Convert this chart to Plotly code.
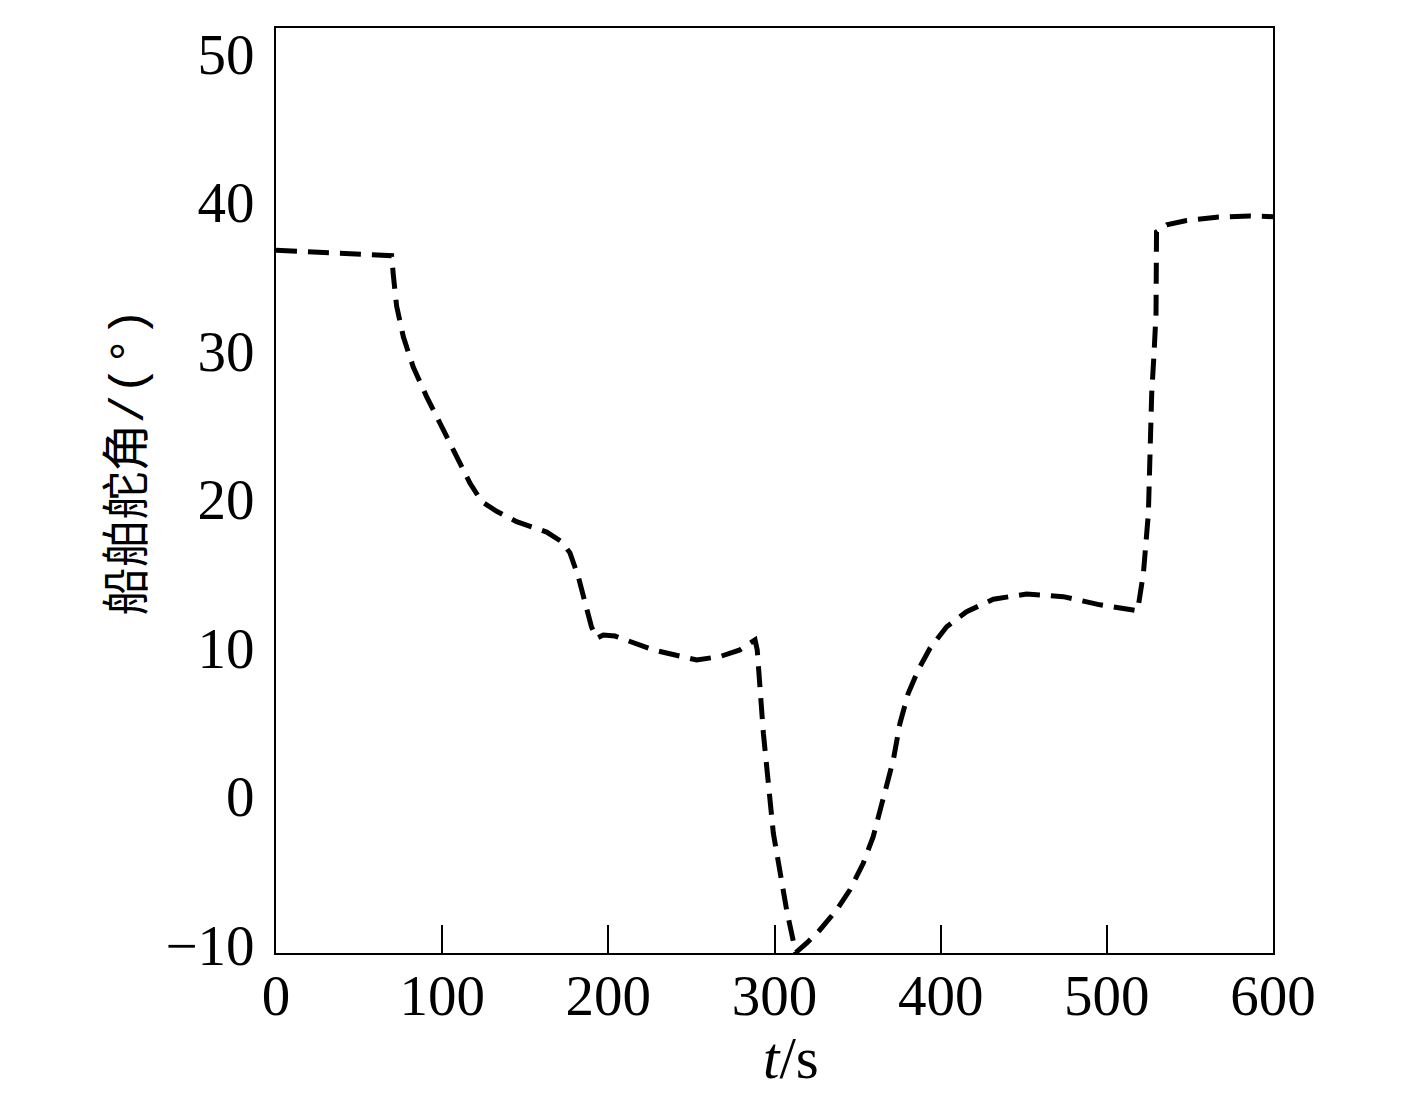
import plotly.graph_objects as go

# time (s)
t = [0, 69.6, 70.6, 72.6, 76.6, 82.6, 90.7, 99.7, 107.7, 116.7, 123.8, 132.8, 144.8,
     162.9, 171.9, 176.9, 181.9, 186.9, 189.9, 193.0, 197.0, 204.0, 227.0, 253.2,
     267.2, 279.2, 288.3, 289.6, 293.3, 299.3, 307.3, 312.8, 319.3, 327.3, 337.4,
     345.4, 353.4, 359.4, 365.5, 371.5, 375.5, 380.5, 386.5, 393.6, 403.6, 415.6,
     431.7, 451.7, 473.8, 495.9, 518.5, 522.0, 525.0, 526.0, 527.0, 528.4, 529.6,
     529.9, 536.0, 548.0, 566.0, 586.0, 600.0]
# rudder angle (deg)
rudder = [36.76, 36.4, 35.1, 33.0, 30.95, 28.9, 26.9, 24.9, 23.1, 21.1, 19.85, 19.2, 18.5,
          17.8, 17.15, 16.4, 14.8, 12.8, 11.4, 10.65, 10.87, 10.8, 9.87, 9.19,
          9.42, 9.87, 10.54, 9.87, 4.26, -2.47, -7.63, -10.5, -9.87, -8.98, -7.63,
          -6.28, -4.49, -2.70, -0.23, 2.46, 4.93, 6.95, 8.52, 9.98, 11.43, 12.44,
          13.28, 13.63, 13.45, 12.9, 12.5, 15.0, 19.06, 23.5, 27.1, 29.8, 32.5,
          38.0, 38.47, 38.76, 38.99, 39.07, 39.02]

x_ticks = [0, 100, 200, 300, 400, 500, 600]
y_ticks = [-10, 0, 10, 20, 30, 40, 50]

x_title = "<i>t</i>/s"
y_title = "船舶舵角<span style=\"font-family:Liberation Mono\">/(°)</span>"


def fmt(v):
    return ("\u2212" + str(-v)) if v < 0 else str(v)


font_serif = "Liberation Serif, Times New Roman, serif"
font_cjk = "Noto Sans CJK SC"

fig = go.Figure()
fig.add_trace(go.Scatter(
    x=t, y=rudder, mode="lines",
    line=dict(color="black", width=5, dash="21px,11px"),
    showlegend=False, cliponaxis=False,
))

fig.update_layout(
    width=1401, height=1084,
    margin=dict(l=268, r=136, t=20, b=139),
    plot_bgcolor="white", paper_bgcolor="white",
    font=dict(family=font_serif, size=57, color="black"),
    annotations=[
        dict(text=x_title, xref="paper", yref="paper", x=0.5165, y=-0.114,
             xanchor="center", yanchor="middle", showarrow=False,
             font=dict(family=font_serif, size=59)),
        dict(text=y_title, xref="paper", yref="paper", x=0, y=0.5303,
             xshift=-154, xanchor="center", yanchor="middle", showarrow=False,
             textangle=-90, font=dict(family=font_cjk, size=48)),
    ],
)
fig.update_xaxes(
    range=[0, 600], tickvals=x_ticks, ticktext=[fmt(v) for v in x_ticks],
    showgrid=False, zeroline=False, automargin=False,
    showline=True, linecolor="black", linewidth=2, mirror=True,
    ticks="inside", ticklen=28, tickwidth=1.5, tickcolor="black",
    ticklabelstandoff=-8,
    tickfont=dict(family=font_serif, size=57),
)
fig.update_yaxes(
    range=[-10.53, 51.72], tickvals=y_ticks, ticktext=[fmt(v) for v in y_ticks],
    showgrid=False, zeroline=False, automargin=False,
    showline=True, linecolor="black", linewidth=2, mirror=True,
    ticks="", ticklabelstandoff=8,
    tickfont=dict(family=font_serif, size=57),
)

fig.write_html("out.html")
